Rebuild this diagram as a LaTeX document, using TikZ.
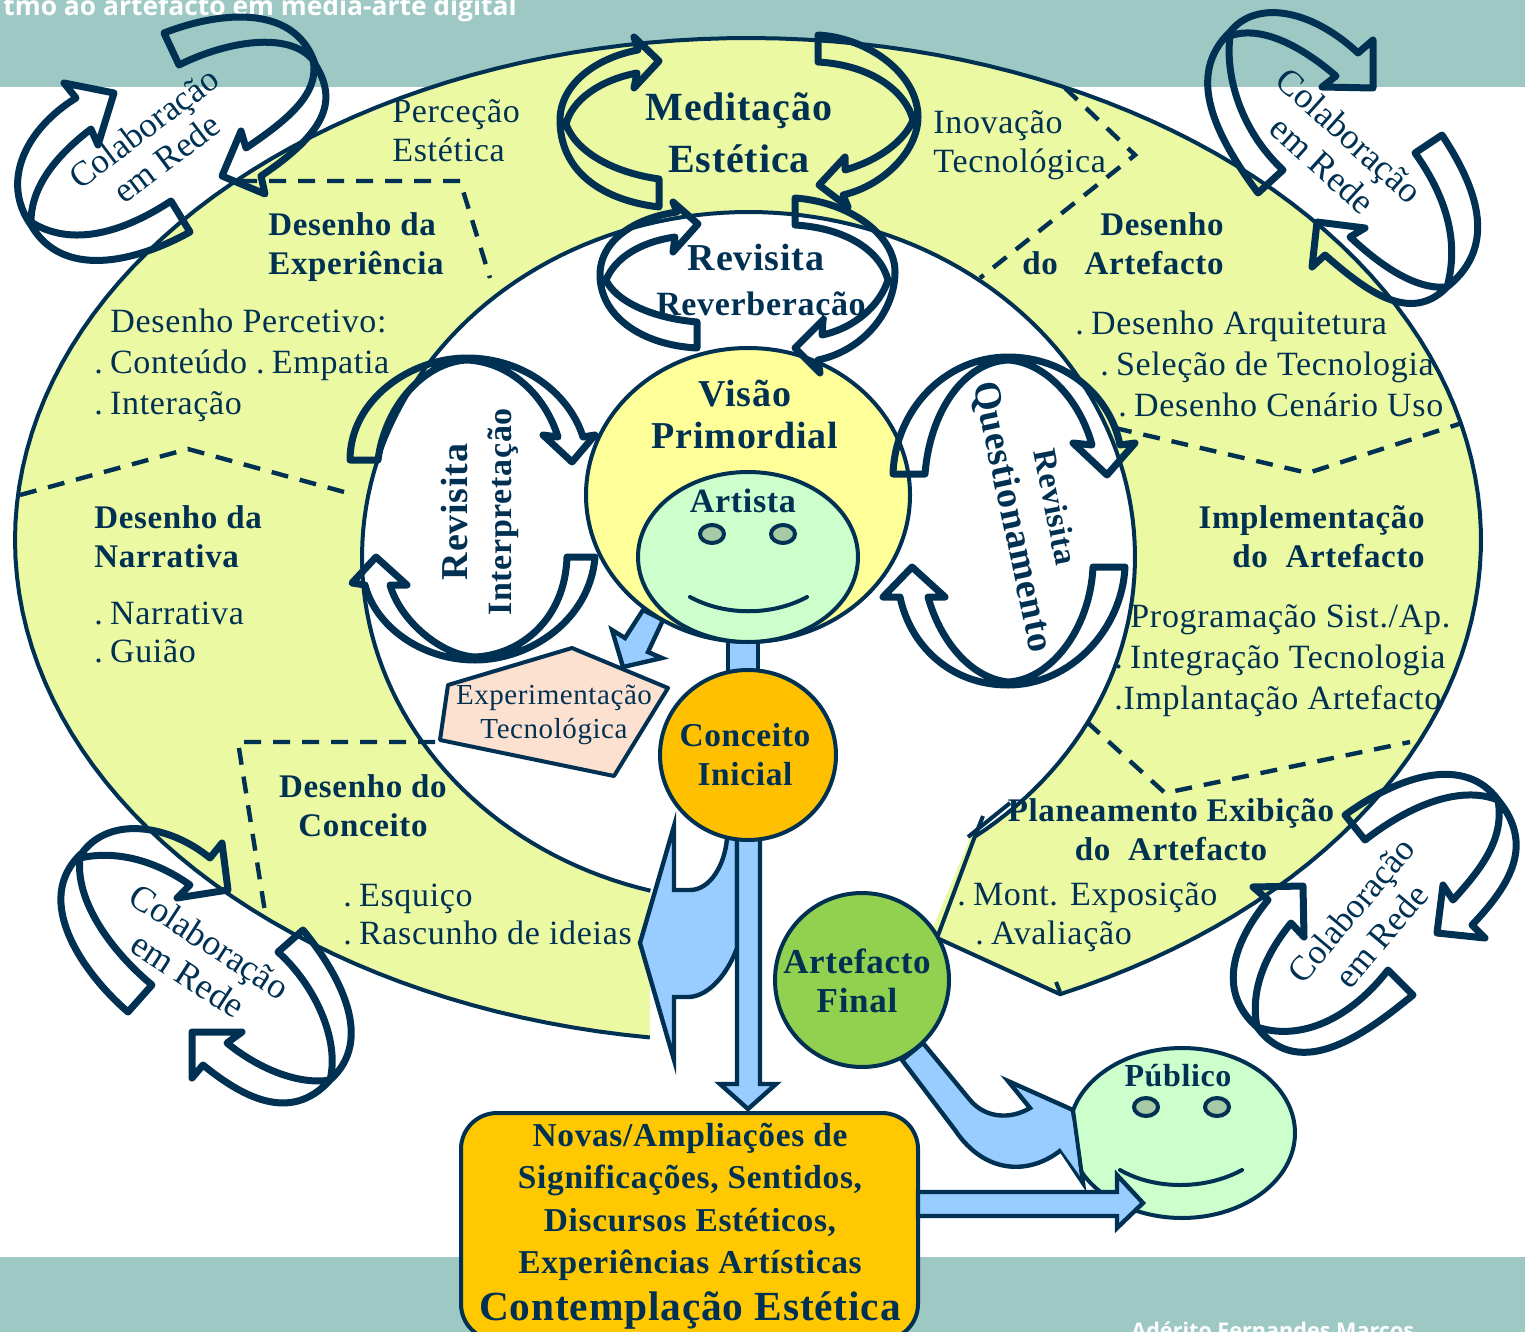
\documentclass[tikz,border=0pt]{standalone}
\usepackage{fontspec}
\usetikzlibrary{shapes.geometric}
\newfontfamily\rs[LetterSpace=2]{Liberation Serif}
\newfontfamily\rplain{Liberation Serif}
\newfontfamily\osans{Open Sans}
\newcommand\fb[2]{\rs\bfseries\fontsize{#1}{#2}\selectfont}
\newcommand\fr[2]{\rs\fontsize{#1}{#2}\selectfont}
\newcommand\fp[2]{\rplain\fontsize{#1}{#2}\selectfont}
\newcommand\dotsp{.\ \kern-1pt}
\definecolor{ink}{HTML}{003153}
\definecolor{band}{HTML}{9DC8C3}
\definecolor{lime}{HTML}{EBF9A3}
\definecolor{sky}{HTML}{99CCFF}
\definecolor{amber}{HTML}{FFC000}
\definecolor{boxfill}{HTML}{FFC800}
\definecolor{mint}{HTML}{CCFFCC}
\definecolor{eyefill}{HTML}{A6CAA6}
\definecolor{sun}{HTML}{FFFF99}
\definecolor{peach}{HTML}{FCE0D0}
\definecolor{leaf}{HTML}{92D050}
\tikzset{
  ring/.style={draw=ink,line width=3.5pt,line join=round},
  edge/.style={draw=ink,line width=2pt,line join=round},
  dashline/.style={draw=ink,line width=2.2pt,dash pattern=on 8.5pt off 6pt},
  blockarrow/.style={draw=ink,line width=2.2pt,fill=sky,line join=miter},
  tx/.style={inner sep=0pt,text=ink,align=left},
  txc/.style={inner sep=0pt,text=ink,align=center},
  txr/.style={inner sep=0pt,text=ink,align=right},
  disc/.style={ellipse,draw=ink,line width=2pt,inner sep=0pt,text=ink,align=center},
}
\begin{document}
\begin{tikzpicture}[x=0.5pt,y=-0.5pt]
\useasboundingbox (0,0) rectangle (1525,1332);
\clip (0,0) rectangle (1525,1332);
% bands
\fill[band] (0,0) rectangle (1525,87);
\fill[band] (0,1257) rectangle (1525,1332);
\node[anchor=base west,inner sep=0pt,text=white,font=\osans\bfseries\fontsize{13.2}{15}\selectfont] (toptitle) at (3,16) {tmo ao artefacto em media-arte digital};
\node[anchor=base west,inner sep=0pt,text=white,font=\osans\bfseries\fontsize{10.8}{13}\selectfont] (author) at (1131,1338) {Adérito Fernandes Marcos};
% main shape
\fill[lime] (931,932) -- (970,838) -- (980,830) -- (937,938) -- (1050,992) -- (1050,984) -- cycle;
\draw[edge,fill=lime] plot[domain=97.7:424.8,samples=160] ({748+733*cos(\x)},{540+502*sin(\x)})
  -- (937,938) -- (975,836)
  -- plot[domain=54:-255.3,samples=160] ({748.5+386.5*cos(\x)},{557+345*sin(\x)});
\draw[edge] (975,836) -- (983,816);
\draw[edge] (968,837) -- (1010,803);
\draw[edge] (1056,982) -- (1060,992);
% dashed dividers
\draw[dashline] (240,181) -- (460,181) -- (490,278);
\draw[dashline] (1065,88) -- (1135,155) -- (980,278);
\draw[dashline] (20,495) -- (188,449) -- (355,495);
\draw[dashline] (1115,428) -- (1308,473) -- (1462,423);
\draw[dashline] (1087,722) -- (1165,793) -- (1410,742);
\draw[dashline] (435,742) -- (238,742) -- (265,912);
% blue arrows
\draw[blockarrow] (643,610) -- (625,638) -- (612,630) -- (623,667) -- (662,658) -- (648,652) -- (663,620) -- cycle;
\draw[blockarrow] (728,638) rectangle (758,672);
\draw[blockarrow] (674,826) -- (674,890) -- (690,890) .. controls (710,890) and (725,865) .. (727,838) -- (737,838) -- (737,948) .. controls (725,980) and (705,997) .. (688,997) -- (674,997) -- (674,1060) -- (640,943) -- cycle;
\draw[blockarrow] (737,835) -- (737,1084) -- (720,1084) -- (748,1109) -- (776,1084) -- (760,1084) -- (760,835) -- cycle;
\draw[blockarrow] (923,1043) -- (970,1100) .. controls (985,1118) and (1010,1120) .. (1030,1108) -- (1008,1081) -- (1073,1110) -- (1083,1183) -- (1061,1150) .. controls (1030,1175) and (985,1175) .. (955,1130) -- (902,1060) -- cycle;
% Visao / artist
\node[disc,fill=sun,minimum width=162pt,minimum height=147pt] (visao) at (748,495) {};
\node[disc,fill=mint,minimum width=110pt,minimum height=85pt] (artista) at (748,557) {};
\node[disc,fill=eyefill,line width=2pt,minimum width=12pt,minimum height=9pt] (eyeAl) at (712,534) {};
\node[disc,fill=eyefill,line width=2pt,minimum width=12pt,minimum height=9pt] (eyeAr) at (783,534) {};
\draw[edge,line cap=round] (690,597) .. controls (725,616) and (772,616) .. (807,597);
% pentagon
\draw[edge,fill=peach] (448,685) -- (572,648) -- (668,688) -- (614,776) -- (440,740) -- cycle;
% concept circles
\node[disc,fill=amber,minimum width=88pt,minimum height=85pt] (conceito) at (748,755) {};
\node[disc,fill=leaf,minimum width=87pt,minimum height=87pt] (artefacto) at (862,980) {};
% public
\node[disc,fill=mint,minimum width=113pt,minimum height=85pt] (publico) at (1182,1133) {};
\node[disc,fill=eyefill,minimum width=12pt,minimum height=9pt] (eyePl) at (1146,1107) {};
\node[disc,fill=eyefill,minimum width=12pt,minimum height=9pt] (eyePr) at (1217,1107) {};
\draw[edge,line cap=round] (1120,1170) .. controls (1155,1190) and (1205,1190) .. (1242,1170);
\fill[sky] (1071,1112) -- (1080,1176) -- (1060,1148) -- (1050,1110) -- cycle;
\draw[edge] (1073,1110) -- (1083,1183);
% result box
\draw[edge,fill=boxfill,rounded corners=18pt] (461,1113) rectangle (918,1340);
\draw[blockarrow] (918,1192) -- (1117,1192) -- (1117,1175) -- (1143,1203) -- (1117,1228) -- (1117,1216) -- (918,1216) -- cycle;
% ring arrows: Meditacao
\draw[ring] (659,207) .. controls (600,200) and (560,170) .. (560,120) .. controls (560,85) and (595,58) .. (638,50) -- (634,37) -- (659,61) -- (634,88) -- (637,73) .. controls (600,80) and (572,100) .. (566,124) .. controls (575,150) and (610,172) .. (659,179) -- cycle;
\draw[ring] (818,35) .. controls (870,38) and (918,75) .. (918,117) .. controls (918,150) and (885,185) .. (843,195) -- (848,207) -- (819,185) -- (845,157) -- (845,170) .. controls (880,160) and (905,140) .. (913,120) .. controls (905,90) and (870,65) .. (818,62) -- cycle;
% Reverberacao
\draw[ring] (697,348) .. controls (640,345) and (600,315) .. (600,275) .. controls (600,240) and (635,218) .. (677,212) -- (673,202) -- (698,224) -- (673,252) -- (675,237) .. controls (640,242) and (615,258) .. (606,280) .. controls (615,300) and (650,318) .. (697,322) -- cycle;
\draw[ring] (795,198) .. controls (850,202) and (895,235) .. (895,272) .. controls (895,310) and (865,350) .. (818,360) -- (820,373) -- (795,348) -- (823,320) -- (822,335) .. controls (855,328) and (880,305) .. (888,280) .. controls (880,250) and (845,228) .. (795,225) -- cycle;
% Interpretacao
\draw[ring] (350,460) .. controls (350,400) and (410,358) .. (467,358) .. controls (525,358) and (570,395) .. (583,437) -- (595,435) -- (572,462) -- (543,435) -- (558,437) .. controls (545,395) and (510,362) .. (467,360) .. controls (425,362) and (385,405) .. (378,460) -- cycle;
\draw[ring] (595,557) .. controls (590,620) and (530,660) .. (475,660) .. controls (420,660) and (375,625) .. (365,585) -- (352,583) -- (376,557) -- (407,585) -- (390,585) .. controls (400,620) and (440,655) .. (475,657) .. controls (520,655) and (565,620) .. (567,557) -- cycle;
% Questionamento
\draw[ring] (893,474) .. controls (895,410) and (945,357) .. (1008,357) .. controls (1065,357) and (1110,395) .. (1120,445) -- (1135,443) -- (1107,475) -- (1073,443) -- (1092,445) .. controls (1080,400) and (1045,362) .. (1008,360) .. controls (965,362) and (930,410) .. (925,474) -- cycle;
\draw[ring] (1125,567) .. controls (1122,630) and (1070,685) .. (1008,685) .. controls (950,685) and (910,645) .. (900,597) -- (883,597) -- (912,567) -- (945,597) -- (928,597) .. controls (940,640) and (970,678) .. (1008,682) .. controls (1050,680) and (1090,630) .. (1093,567) -- cycle;
% Colaboracao top-left
\draw[ring] (164,33) .. controls (212,14) and (294,0) .. (315,64) .. controls (336,98) and (331,129) .. (261,176) -- (265,194) -- (222,176) -- (241,131) -- (246,148) .. controls (289,119) and (320,93) .. (313,60) .. controls (289,31) and (227,41) .. (179,65) -- cycle;
\draw[ring] (190,232) .. controls (134,263) and (62,279) .. (31,225) .. controls (0,181) and (26,129) .. (76,98) -- (64,83) -- (114,93) -- (98,145) -- (91,129) .. controls (57,155) and (31,186) .. (31,222) .. controls (72,248) and (124,232) .. (171,201) -- cycle;
% Colaboracao top-right
\draw[ring] (1258,193) .. controls (1215,135) and (1185,75) .. (1230,32) .. controls (1255,0) and (1310,8) .. (1358,53) -- (1373,40) -- (1373,88) -- (1322,87) -- (1336,76) .. controls (1300,45) and (1260,25) .. (1230,36) .. controls (1225,75) and (1240,130) .. (1283,170) -- cycle;
\draw[ring] (1442,135) .. controls (1475,185) and (1500,245) .. (1447,287) .. controls (1410,325) and (1365,290) .. (1325,255) -- (1312,267) -- (1317,222) -- (1365,228) -- (1350,237) .. controls (1380,265) and (1415,290) .. (1447,287) .. controls (1460,240) and (1445,195) .. (1415,153) -- cycle;
% Colaboracao bottom-left
\draw[ring] (128,1012) .. controls (85,975) and (30,900) .. (82,853) .. controls (110,815) and (170,825) .. (210,858) -- (222,843) -- (228,890) -- (177,898) -- (190,885) .. controls (155,860) and (115,850) .. (80,858) .. controls (75,900) and (110,950) .. (152,985) -- cycle;
\draw[ring] (303,930) .. controls (340,975) and (375,1040) .. (330,1080) .. controls (290,1125) and (240,1095) .. (203,1065) -- (192,1078) -- (192,1032) -- (242,1032) -- (227,1043) .. controls (260,1070) and (300,1085) .. (330,1080) .. controls (340,1040) and (315,985) .. (278,952) -- cycle;
% Colaboracao bottom-right
\draw[ring] (1345,815) .. controls (1400,775) and (1465,755) .. (1498,800) .. controls (1535,845) and (1510,885) .. (1472,925) -- (1485,938) -- (1437,933) -- (1443,885) -- (1453,900) .. controls (1480,870) and (1505,840) .. (1498,800) .. controls (1460,785) and (1410,805) .. (1365,840) -- cycle;
\draw[ring] (1413,995) .. controls (1370,1030) and (1300,1085) .. (1257,1027) .. controls (1215,990) and (1235,940) .. (1268,900) -- (1253,887) -- (1303,886) -- (1304,937) -- (1291,923) .. controls (1265,955) and (1250,990) .. (1257,1027) .. controls (1295,1040) and (1345,1025) .. (1388,970) -- cycle;
% texts
\node[txc,font=\fb{20}{26}] (tMed) at (739,133) {Meditação\\Estética};
\node[txc,font=\fb{19}{22}] (tRev) at (756,258) {Revisita};
\node[txc,font=\fb{17}{19}] (tRever) at (761,307) {Reverberação};
\node[tx,anchor=west,font=\fr{17}{19.5}] (tPerc) at (392,131) {Perceção\\Estética};
\node[tx,anchor=west,font=\fr{17}{19.5}] (tInov) at (933,145) {Inovação\\Tecnológica};
\node[tx,anchor=west,font=\fb{16.5}{19.5}] (tDExp) at (268,247) {Desenho da\\Experiência};
\node[tx,anchor=west,font=\fr{17}{20.5}] (tLExp) at (94,365) {\hspace*{8pt}Desenho Percetivo:\\\dotsp Conteúdo \dotsp Empatia\\\dotsp Interação};
\node[txr,anchor=east,font=\fb{16.5}{19.5}] (tDArt) at (1224,244) {Desenho\\do\ \ \ Artefacto};
\node[tx,anchor=west,font=\fr{17}{20.5}] (tLArt) at (1075,364) {\dotsp Desenho Arquitetura\\\hspace*{12.5pt}\dotsp Seleção de Tecnologia\\\hspace*{21.5pt}\dotsp Desenho Cenário Uso};
\node[tx,anchor=west,font=\fb{16.5}{19.5}] (tDNar) at (94,537) {Desenho da\\Narrativa};
\node[tx,anchor=west,font=\fr{17}{19}] (tLNar) at (94,632) {\dotsp Narrativa\\\dotsp Guião};
\node[txr,anchor=east,font=\fb{16.5}{19.5}] (tImp) at (1425,537) {Implementação\\do\ \ Artefacto};
\node[tx,anchor=west,font=\fr{17}{20.5}] (tLImp) at (1114,661) {\hspace*{8pt}Programação Sist./Ap.\\\dotsp Integração Tecnologia\\.Implantação Artefacto};
\node[txc,font=\fb{16.5}{19.5}] (tPlan) at (1171,830) {Planeamento Exibição\\do\ \ Artefacto};
\node[tx,anchor=west,font=\fr{17}{19.5}] (tLPlan) at (957,917) {\dotsp Mont. Exposição\\\hspace*{9pt}\dotsp Avaliação};
\node[txc,font=\fb{16.5}{19.5}] (tCon) at (363,806) {Desenho do\\Conceito};
\node[tx,anchor=west,font=\fr{17}{19}] (tLCon) at (343,914) {\dotsp Esquiço\\\dotsp Rascunho de ideias};
\node[txc,font=\fb{19}{21}] (tVis) at (745,414) {Visão\\Primordial};
\node[txc,font=\fb{17}{19}] (tArt) at (743,501) {Artista};
\node[txc,font=\fb{16.7}{19.5}] (tCI) at (745,755) {Conceito\\Inicial};
\node[txc,font=\fb{17.5}{19.5}] (tAF) at (857,981) {Artefacto\\Final};
\node[txc,font=\fb{16}{18}] (tPub) at (1178,1076) {Público};
\node[txc,font=\fr{14.5}{17}] (tExp) at (554,715) {Experimentação\\Tecnológica};
\node[txc,rotate=90,font=\fb{19}{22}] (tRI) at (480,512) {Revisita\\{\fb{17}{22}Interpretação}};
\node[txc,rotate=-78,font=\fb{19}{22}] (tQ) at (1012,517) {Questionamento};
\node[txc,rotate=-79,font=\fb{16.4}{18}] (tRQ) at (1056,507) {Revisita};
\node[txc,rotate=37,font=\fp{17.5}{19}] (tC1) at (155,143) {Colaboração\\em Rede};
\node[txc,rotate=-42,font=\fp{18}{20}] (tC2) at (1336,150) {Colaboração\\em Rede};
\node[txc,rotate=-33,font=\fp{18}{20}] (tC3) at (199,958) {Colaboração\\em Rede};
\node[txc,rotate=50,font=\fp{17.5}{20}] (tC4) at (1366,923) {Colaboração\\em Rede};
\node[txc,font=\fb{16.7}{21.2}] (tBox) at (690,1202) {Novas/Ampliações de\\Significações, Sentidos,\\Discursos Estéticos,\\Experiências Artísticas};
\node[txc,font=\fb{20.7}{24}] (tCE) at (690,1310) {Contemplação Estética};
\end{tikzpicture}
\end{document}
